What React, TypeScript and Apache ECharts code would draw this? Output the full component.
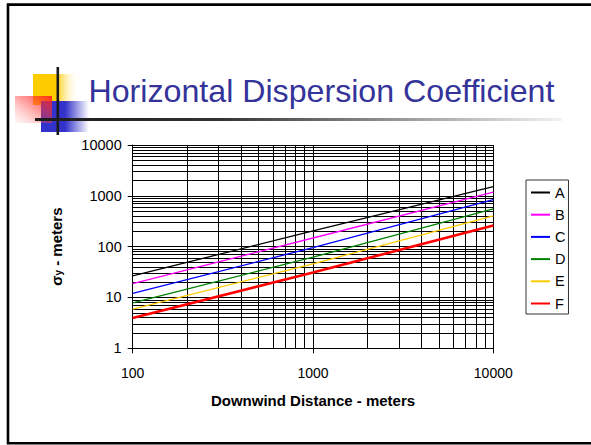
import React, { useEffect, useRef } from "react";
import * as echarts from "echarts";

// ---- data ----
const distances = [100, 1000, 10000];
const seriesNames = ["A", "B", "C", "D", "E", "F"];
const sigmaA = [26.5, 205, 1510];
const sigmaB = [18.7, 148, 1180];
const sigmaC = [12, 96, 840];
const sigmaD = [7.8, 62, 555];
const sigmaE = [5.9, 46, 405];
const sigmaF = [3.95, 31, 262];
const seriesValues = [sigmaA, sigmaB, sigmaC, sigmaD, sigmaE, sigmaF];
const seriesColors = ["#000000", "#ff00ff", "#0000ff", "#008000", "#ffcc00", "#ff0000"];
const seriesWidths = [1.3, 1.3, 1.3, 1.3, 1.3, 2.6];

const xMin = 100;
const xMax = 10000;
const yMin = 1;
const yMax = 10000;
const xMinorGrid = [200, 300, 400, 500, 600, 700, 800, 900, 2000, 3000, 4000, 5000, 6000, 7000, 8000, 9000];
const yMinorGrid = [
  2, 3, 4, 5, 6, 7, 8, 9,
  20, 30, 40, 50, 60, 70, 80, 90,
  200, 300, 400, 500, 600, 700, 800, 900,
  2000, 3000, 4000, 5000, 6000, 7000, 8000, 9000,
];

const titleText = "Horizontal Dispersion Coefficient";
const xAxisTitle = "Downwind Distance - meters";
const yAxisSymbol = "σ";
const yAxisSub = "y";
const yAxisRest = " - meters";

const FONT = "'Liberation Sans', Arial, sans-serif";

function measureTitle(size: number): number {
  try {
    const c = document.createElement("canvas").getContext("2d");
    if (!c) return 0;
    c.font = `${size}px 'Liberation Sans', Arial, sans-serif`;
    return c.measureText(titleText).width;
  } catch (e) {
    return 0;
  }
}

export default function App() {
  const ref = useRef<HTMLDivElement>(null);

  useEffect(() => {
    document.body.style.margin = "0";
    if (!ref.current) return;
    const chart = echarts.init(ref.current, null, { renderer: "svg" });

    const titleSize = 32;
    const targetWidth = 466;
    const w = measureTitle(titleSize);
    const sx = w > 0 ? targetWidth / w : 1;

    const series: any[] = seriesNames.map((name, i) => ({
      name,
      type: "line",
      data: distances.map((d, j) => [d, seriesValues[i][j]]),
      symbol: "none",
      z: 5,
      lineStyle: { color: seriesColors[i], width: seriesWidths[i] },
      itemStyle: { color: seriesColors[i] },
      emphasis: { disabled: true },
    }));

    series.push({
      name: "grid",
      type: "line",
      data: [],
      z: 1,
      silent: true,
      markLine: {
        silent: true,
        symbol: ["none", "none"],
        label: { show: false },
        emphasis: { disabled: true },
        lineStyle: { color: "#000", width: 1, type: "solid" },
        data: [
          ...xMinorGrid.map((v) => ({ xAxis: v })),
          ...yMinorGrid.map((v) => ({ yAxis: v })),
        ],
      },
    });

    chart.setOption({
      animation: false,
      backgroundColor: "#ffffff",
      textStyle: { fontFamily: FONT },
      grid: { left: 132.7, right: 97.7, top: 145, bottom: 96.7, containLabel: false },
      legend: {
        data: seriesNames,
        orient: "vertical",
        left: 526,
        top: 180,
        itemWidth: 19,
        itemHeight: 14,
        itemGap: 7.2,
        padding: [5, 3, 3, 4],
        borderColor: "#333",
        borderWidth: 1,
        backgroundColor: "#fff",
        itemStyle: { opacity: 0 },
        textStyle: { fontSize: 14.5, color: "#000", fontFamily: FONT },
        selectedMode: false,
      },
      xAxis: {
        type: "log",
        logBase: 10,
        min: xMin,
        max: xMax,
        name: xAxisTitle,
        nameLocation: "middle",
        nameGap: 45,
        nameTextStyle: { fontSize: 15, fontWeight: "bold", color: "#000", fontFamily: FONT },
        axisLine: { show: true, lineStyle: { color: "#000", width: 1 } },
        axisTick: { show: true, inside: false, length: 5, lineStyle: { color: "#000" } },
        axisLabel: {
          fontSize: 14,
          color: "#000",
          margin: 18,
          formatter: (v: number) => String(Math.round(v)),
        },
        splitLine: { show: true, lineStyle: { color: "#000", width: 1 } },
        minorTick: { show: false },
      },
      yAxis: {
        type: "log",
        logBase: 10,
        min: yMin,
        max: yMax,
        name: `{a|${yAxisSymbol}}{b|${yAxisSub}}{a|${yAxisRest}}`,
        nameLocation: "middle",
        nameRotate: 90,
        nameGap: 69,
        nameTextStyle: {
          color: "#000",
          fontFamily: FONT,
          rich: {
            a: { fontSize: 15, fontWeight: "bold", color: "#000", fontFamily: FONT, verticalAlign: "bottom", lineHeight: 17 },
            b: { fontSize: 10, fontWeight: "bold", color: "#000", fontFamily: FONT, verticalAlign: "bottom", lineHeight: 13 },
          },
        },
        axisLine: { show: true, lineStyle: { color: "#000", width: 1 } },
        axisTick: { show: true, inside: false, length: 5, lineStyle: { color: "#000" } },
        axisLabel: {
          fontSize: 14.5,
          color: "#000",
          margin: 11,
          formatter: (v: number) => String(Math.round(v)),
        },
        splitLine: { show: true, lineStyle: { color: "#000", width: 1 } },
      },
      series,
      graphic: [
        // slide frame
        {
          type: "rect",
          silent: true,
          z: 0,
          shape: { x: 8, y: 4.6, width: 700, height: 438.6 },
          style: { fill: "none", stroke: "#000", lineWidth: 2.6 },
        },
        // logo: yellow square
        {
          type: "rect",
          silent: true,
          shape: { x: 33, y: 74, width: 46, height: 31 },
          style: {
            fill: new echarts.graphic.LinearGradient(0, 0, 1, 0, [
              { offset: 0, color: "#ffcc00" },
              { offset: 0.5, color: "#ffcc00" },
              { offset: 1, color: "rgba(255,255,255,0)" },
            ]),
          },
        },
        // logo: blue square
        {
          type: "rect",
          silent: true,
          shape: { x: 41, y: 101, width: 48, height: 31 },
          style: {
            fill: new echarts.graphic.LinearGradient(0, 0, 1, 0, [
              { offset: 0, color: "#3333cc" },
              { offset: 0.5, color: "#3333cc" },
              { offset: 1, color: "rgba(51,51,204,0)" },
            ]),
          },
        },
        // logo: red square
        {
          type: "rect",
          silent: true,
          shape: { x: 15, y: 96, width: 37, height: 27 },
          style: {
            fill: new echarts.graphic.LinearGradient(1, 0, 0, 1, [
              { offset: 0, color: "rgba(255,30,30,0.9)" },
              { offset: 0.5, color: "rgba(255,60,60,0.45)" },
              { offset: 1, color: "rgba(255,150,150,0.08)" },
            ]),
          },
        },
        // logo: vertical black bar
        {
          type: "rect",
          silent: true,
          shape: { x: 56.5, y: 67, width: 2.6, height: 68 },
          style: { fill: "#1a1a1a" },
        },
        // underline with fade
        {
          type: "rect",
          silent: true,
          shape: { x: 35, y: 118, width: 527, height: 3 },
          style: {
            fill: new echarts.graphic.LinearGradient(0, 0, 1, 0, [
              { offset: 0, color: "#1a1a1a" },
              { offset: 0.35, color: "#333333" },
              { offset: 1, color: "#f2f2f2" },
            ]),
          },
        },
        // title
        {
          type: "text",
          silent: true,
          x: 88.5,
          y: 106.7,
          scaleX: sx,
          style: {
            text: titleText,
            fontSize: titleSize,
            fontFamily: FONT,
            fill: "#333399",
            textAlign: "left",
            textVerticalAlign: "bottom",
            verticalAlign: "bottom",
          },
        },
      ],
    });

    return () => chart.dispose();
  }, []);

  return <div ref={ref} style={{ width: 591, height: 445 }} />;
}
